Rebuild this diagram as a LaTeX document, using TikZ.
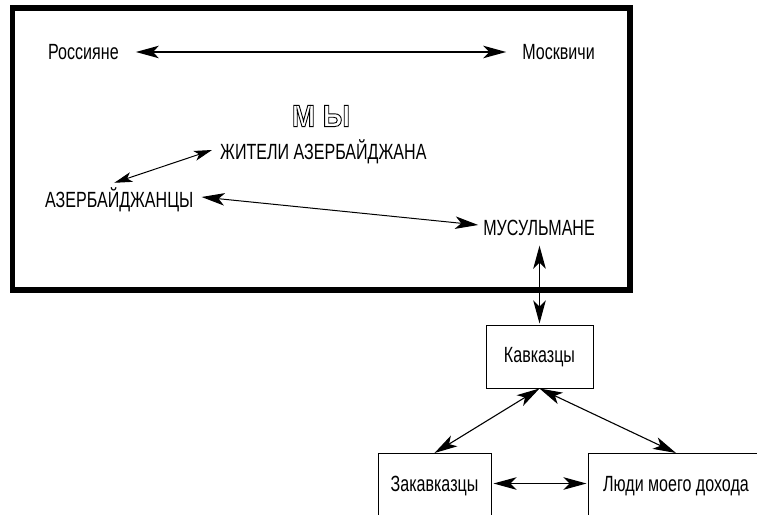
\documentclass[tikz,border=0pt]{standalone}
\usepackage{fontspec}
\setmainfont{Liberation Sans}[FakeStretch=0.73]
\newfontfamily\myfont{Liberation Sans}[FakeStretch=0.9]
\usetikzlibrary{arrows.meta}
\newcommand{\lblfont}{\fontsize{22bp}{26bp}\selectfont}
\newcommand{\outlinetext}[1]{\special{pdf:literal direct 1 Tr 0.9 w}#1\special{pdf:literal direct 0 Tr}}
\tikzset{
  lbl/.style={font=\lblfont, inner sep=0pt, text height=16bp, text depth=0pt},
  boxnode/.style={draw, line width=1bp, font=\lblfont, inner sep=0pt, text height=16bp},
  bigtip/.tip={Stealth[length=23bp,width=12.5bp,inset=6bp]},
  smalltip/.tip={Stealth[length=18bp,width=10bp,inset=4.5bp]},
  arr/.style={bigtip-bigtip, line width=1.3bp},
  thinarr/.style={smalltip-smalltip, line width=1bp},
}
\begin{document}
\begin{tikzpicture}[x=1bp,y=-1bp]
\useasboundingbox (0,0) rectangle (757,515);
\clip (0,0) rectangle (757,515);
\fill[white] (0,0) rectangle (757,515);
% frame
\node[draw, line width=5.5bp, minimum width=617.5bp, minimum height=282bp, inner sep=0pt] (frame) at (321.25,149) {};
% labels inside frame
\node[lbl, anchor=west] (ros) at (48,52) {Россияне};
\node[lbl, anchor=east] (mos) at (595,52) {Москвичи};
\node[font=\myfont\bfseries\fontsize{31bp}{35bp}\selectfont, inner sep=0pt] (my) at (321,116) {\outlinetext{М Ы}};
\node[lbl, anchor=west] (zhit) at (220,152) {ЖИТЕЛИ АЗЕРБАЙДЖАНА};
\node[lbl, anchor=west] (azer) at (45,200) {АЗЕРБАЙДЖАНЦЫ};
\node[lbl, anchor=east] (mus) at (595,228) {МУСУЛЬМАНЕ};
% boxes
\node[boxnode, minimum width=107bp, minimum height=63bp, text depth=4bp] (kav) at (539.5,356.5) {Кавказцы};
\node[boxnode, minimum width=113bp, anchor=north, text depth=17bp, inner ysep=22bp] (zak) at (434.5,453) {Закавказцы};
\node[boxnode, minimum width=176bp, anchor=north, text depth=17bp, inner ysep=22bp] (lud) at (676,453) {Люди моего дохода};
% connectors
\draw[arr, line width=1.6bp, shorten <=17bp, shorten >=16bp] (ros.east) -- (mos.west);
\draw[thinarr] ([shift={(-5,-9)}]azer.north) -- ([shift={(-8,-2)}]zhit.west);
\draw[arr, line width=1bp] ([shift={(8,-3)}]azer.east) -- ([shift={(-5,-3)}]mus.west);
\draw[arr, shorten <=9.5bp, shorten >=1bp] (kav.north |- mus.south) -- (kav.north);
\draw[arr, line width=1.1bp] (kav.south) -- (zak.north);
\draw[arr, line width=1.1bp] (kav.south) -- (lud.north);
\draw[arr, shorten <=2bp, shorten >=1bp] ([yshift=8.5bp]zak.east) -- ([yshift=8.5bp]lud.west);
\end{tikzpicture}
\end{document}
